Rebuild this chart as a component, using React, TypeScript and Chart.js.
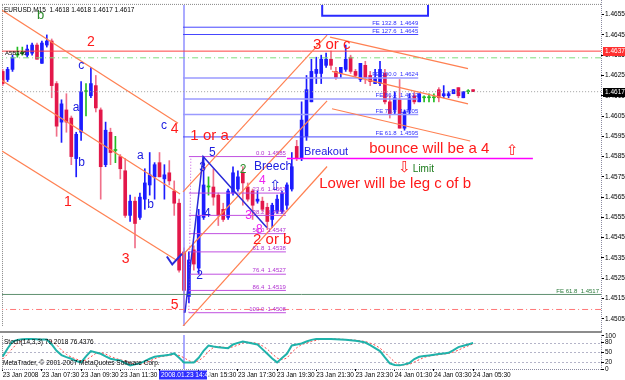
import React, { useEffect, useRef } from "react";
import { Chart, registerables } from "chart.js";

Chart.register(...registerables);

const FONT = '"Liberation Sans", Arial, sans-serif';
const ARROW_FONT = '"DejaVu Sans", sans-serif';

// ---------- data ----------
const symbolHeader = "EURUSD,M15  1.4618 1.4618 1.4617 1.4617";
const stochHeader = "Stoch(14,3,3) 79.2018 76.4376";
const copyright = "MetaTrader, \u00a9 2001-2007 MetaQuotes Software Corp.";

const openP = [
  1.4627, 1.4623, 1.4628, 1.4635, 1.4636, 1.4635, 1.4636, 1.464, 1.4631, 1.464,
  1.4642, 1.4621, 1.4602, 1.4608, 1.4604, 1.4584, 1.4597, 1.4617, 1.4615, 1.462,
  1.4608, 1.4581, 1.4597, 1.4588, 1.4585, 1.4578, 1.4556, 1.4563, 1.4555, 1.4564,
  1.4571, 1.4575, 1.4582, 1.4574, 1.4577, 1.4568, 1.4562, 1.4538, 1.4516, 1.4539,
  1.453, 1.4555, 1.457, 1.457, 1.4566, 1.4559, 1.4555, 1.4567, 1.4569, 1.4577,
  1.457, 1.4568, 1.4563, 1.4563, 1.456, 1.4554, 1.4558, 1.4558, 1.4561, 1.4569,
  1.459, 1.4584, 1.4595, 1.4612, 1.4626, 1.4626, 1.463, 1.4633, 1.4627, 1.4626,
  1.4628, 1.4634, 1.4627, 1.4623, 1.463, 1.4625, 1.4621, 1.4621, 1.4626, 1.4612,
  1.4608, 1.4613, 1.4599, 1.4608, 1.4615, 1.4612, 1.4614, 1.4614, 1.4614, 1.4618,
  1.4615, 1.4615, 1.4616, 1.4619, 1.4614, 1.4617, 1.4618,
];
const highP = [
  1.4628, 1.4629, 1.4635, 1.4639, 1.4639, 1.464, 1.4641, 1.4641, 1.4642, 1.4645,
  1.4643, 1.4622, 1.4613, 1.4616, 1.4605, 1.4597, 1.4622, 1.4621, 1.4629, 1.4625,
  1.4609, 1.4602, 1.4599, 1.4595, 1.4586, 1.4584, 1.4566, 1.4565, 1.4567, 1.4579,
  1.4587, 1.4582, 1.4587, 1.4581, 1.4583, 1.4573, 1.4564, 1.454, 1.4538, 1.4541,
  1.4559, 1.4585, 1.4575, 1.4579, 1.4567, 1.4562, 1.4569, 1.458, 1.4578, 1.458,
  1.4572, 1.4569, 1.4568, 1.4565, 1.4562, 1.4562, 1.4566, 1.4568, 1.4572, 1.4587,
  1.4593, 1.4612, 1.4625, 1.4633, 1.4634, 1.4635, 1.4636, 1.4637, 1.4629, 1.4629,
  1.464, 1.4635, 1.4628, 1.4631, 1.4632, 1.4627, 1.4628, 1.4632, 1.4628, 1.4615,
  1.4617, 1.4623, 1.4608, 1.4616, 1.4617, 1.4616, 1.4615, 1.4616, 1.4616, 1.4619,
  1.462, 1.4617, 1.4618, 1.4619, 1.4617, 1.4618, 1.4618,
];
const lowP = [
  1.462, 1.4622, 1.4627, 1.4634, 1.4635, 1.4634, 1.4635, 1.4633, 1.4631, 1.4639,
  1.4614, 1.4595, 1.4592, 1.4597, 1.4581, 1.4575, 1.4593, 1.4605, 1.4614, 1.4607,
  1.4564, 1.458, 1.4581, 1.4582, 1.4574, 1.4555, 1.4553, 1.454, 1.4554, 1.4559,
  1.4566, 1.4564, 1.4575, 1.4564, 1.4571, 1.4556, 1.4528, 1.4508, 1.4513, 1.4529,
  1.4527, 1.4554, 1.4566, 1.4561, 1.4551, 1.4553, 1.4554, 1.4566, 1.4568, 1.4561,
  1.4563, 1.4554, 1.4562, 1.4558, 1.4549, 1.455, 1.4557, 1.4557, 1.4559, 1.4568,
  1.4583, 1.4583, 1.4593, 1.4612, 1.4621, 1.4621, 1.4629, 1.4628, 1.4623, 1.4624,
  1.4627, 1.4626, 1.4624, 1.4622, 1.4621, 1.462, 1.4621, 1.462, 1.4611, 1.4604,
  1.4606, 1.4599, 1.4598, 1.4606, 1.4611, 1.4612, 1.4612, 1.4612, 1.4612, 1.4612,
  1.4614, 1.4614, 1.4616, 1.4614, 1.4614, 1.4616, 1.4617,
];
const closeP = [
  1.4621, 1.4628, 1.4634, 1.4635, 1.4636, 1.4638, 1.464, 1.4633, 1.4641, 1.4642,
  1.462, 1.46, 1.4611, 1.4602, 1.4585, 1.4596, 1.4617, 1.4617, 1.4621, 1.4609,
  1.458, 1.4598, 1.4587, 1.4588, 1.4579, 1.4556, 1.4563, 1.4552, 1.4565, 1.4572,
  1.4576, 1.4581, 1.4575, 1.4576, 1.4573, 1.4562, 1.4529, 1.4519, 1.4534, 1.4532,
  1.4556, 1.4571, 1.457, 1.4565, 1.4556, 1.4554, 1.4568, 1.4577, 1.4575, 1.4572,
  1.4564, 1.4561, 1.4564, 1.4559, 1.4553, 1.4561, 1.4564, 1.4567, 1.4571, 1.458,
  1.4584, 1.4603, 1.4618, 1.4627, 1.4628, 1.4633, 1.4633, 1.463, 1.4624, 1.4629,
  1.4633, 1.4627, 1.4625, 1.4631, 1.4624, 1.4622, 1.4624, 1.4628, 1.4612, 1.4606,
  1.4614, 1.4599, 1.4607, 1.4614, 1.4612, 1.4616, 1.4614, 1.4614, 1.4614, 1.4614,
  1.4616, 1.4616, 1.4618, 1.4615, 1.4617, 1.4617, 1.4617,
];
const stochMain = [
  38, 62, 83, 88, 90, 91, 91, 90, 89, 89,
  74, 55, 42, 36, 31, 24, 20, 38, 54, 50,
  46, 38, 31, 28, 26, 18, 11, 14, 17, 24,
  31, 37, 39, 41, 43, 47, 34, 20, 20, 20,
  34, 55, 71, 68, 66, 64, 63, 74, 79, 83,
  80, 77, 74, 60, 46, 32, 20, 33, 46, 71,
  74, 77, 83, 88, 91, 91, 91, 91, 90, 89,
  88, 87, 85, 83, 80, 72, 63, 54, 35, 17,
  12, 11, 14, 18, 30, 37, 39, 41, 43, 45,
  47, 49, 57, 66, 70, 74, 79,
];
const stochSignal = [
  30, 45, 62, 78, 87, 90, 91, 91, 90, 89,
  84, 73, 57, 44, 36, 30, 25, 27, 37, 47,
  50, 45, 38, 32, 28, 24, 18, 14, 14, 18,
  24, 31, 36, 39, 41, 44, 41, 34, 25, 20,
  25, 36, 53, 65, 68, 66, 64, 67, 72, 79,
  81, 80, 77, 70, 60, 46, 33, 28, 33, 50,
  64, 74, 78, 83, 87, 90, 91, 91, 91, 90,
  89, 88, 87, 85, 83, 78, 72, 63, 50, 35,
  21, 13, 12, 14, 21, 28, 35, 39, 41, 43,
  45, 47, 51, 57, 64, 70, 76,
];
const priceTicks = [
  1.4505, 1.4515, 1.4525, 1.4535, 1.4545, 1.4555, 1.4565, 1.4575,
  1.4585, 1.4595, 1.4605, 1.4615, 1.4625, 1.4635, 1.4645, 1.4655,
];
const stochTicks = [0, 20, 50, 80, 100];
const stochLevels = [20, 50, 80];
const timeTickBars = [0, 8, 16, 24, 32, 40, 48, 56, 64, 72, 80, 88, 96];
const timeTickLabels = [
  "23 Jan 2008", "23 Jan 07:30", "23 Jan 09:30", "23 Jan 11:30", "23 Jan 13:30",
  "23 Jan 15:30", "23 Jan 17:30", "23 Jan 19:30", "23 Jan 21:30", "23 Jan 23:30",
  "24 Jan 01:30", "24 Jan 03:30", "24 Jan 05:30",
];
const crossBar = 37;
const crossLabel = "2008.01.23 14:45";
const dayHigh = 1.4637;
const lastPrice = 1.4617;
const greenDashLevel = 1.46337;
const fe618Level = 1.4517;
const wave5Level = 1.45096;
const breakLevel = 1.4584;

const X_MIN = -0.143;
const X_MAX = 122.1;
const Y_MIN = 1.45014;
const Y_MAX = 1.46598;

// channels: [bar1, price1, bar2, price2]
const channelSegments = [
  [-0.14, 1.46572, 35.78, 1.46014],
  [-0.14, 1.46225, 36.2, 1.45666],
  [-0.14, 1.45877, 35.57, 1.45337],
  [36.8, 1.45676, 66.2, 1.46449],
  [36.8, 1.45366, 66.2, 1.46125],
  [36.8, 1.45014, 66.2, 1.45801],
  [66.8, 1.46439, 94.96, 1.46284],
  [67.2, 1.4627, 94.96, 1.4611],
  [67.2, 1.46086, 95.4, 1.45927],
];
const feStart = 36.8;
const feEnd = 84.8;
const feDark = [1.46488, 1.46452, 1.45947];
const feLight = [1.46238, 1.46134, 1.46058];
const feLabels: [string, number][] = [
  ["FE 132.8  1.4649", 1.46488],
  ["FE 127.6  1.4645", 1.46452],
  ["FE 100.0  1.4624", 1.46238],
  ["FE 86.4  1.4613", 1.46134],
  ["FE 76.4  1.4605", 1.46058],
  ["FE 61.8  1.4595", 1.45947],
];
const fibStart = 38.0;
const fibEnd = 57.8;
const fibLabels: [string, number][] = [
  ["0.0  1.4585", 1.4585],
  ["23.6  1.4567", 1.4567],
  ["38.2  1.4556", 1.4556],
  ["50.0  1.4547", 1.4547],
  ["61.8  1.4538", 1.4538],
  ["76.4  1.4527", 1.4527],
  ["86.4  1.4519", 1.4519],
  ["100.0  1.4508", 1.4508],
];
const boxPoints = [[65.2, 1.4666], [65.2, 1.46544], [86.8, 1.46544], [86.8, 1.4666]];
const zigzagPoints = [[37.2, 1.4508], [40.9, 1.4585], [53.9, 1.4550]];
const checkPoints = [[33.5, 1.45357], [34.6, 1.45318], [36.6, 1.45371]];
const magentaSegment = [[58.0, breakLevel], [108.2, breakLevel]];

const RED = "#ff1a1a";
const BLUE = "#2020e0";
const GREEN = "#2a8a2a";
const MAGENTA = "#f020f0";

const waveLabels: [string, number, number, string, number][] = [
  ["b", 7.0, 1.46548, GREEN, 13],
  ["2", 17.2, 1.46412, RED, 14],
  ["c", 15.4, 1.46299, BLUE, 12],
  ["a", 14.3, 1.46091, BLUE, 12],
  ["b", 15.4, 1.45821, BLUE, 12],
  ["1", 12.5, 1.45627, RED, 14],
  ["c", 32.3, 1.46004, BLUE, 12],
  ["4", 34.3, 1.45985, RED, 14],
  ["a", 27.4, 1.45854, BLUE, 12],
  ["b", 29.5, 1.45613, BLUE, 12],
  ["3", 24.3, 1.45342, RED, 14],
  ["5", 34.3, 1.45115, RED, 14],
  ["1 or a", 38.3, 1.45951, RED, 15],
  ["5", 42.1, 1.45869, BLUE, 12],
  ["3", 40.1, 1.45796, BLUE, 12],
  ["4", 41.1, 1.45569, BLUE, 12],
  ["2", 39.5, 1.45265, BLUE, 12],
  ["2", 48.4, 1.45787, GREEN, 12],
  ["Breech", 51.3, 1.45801, BLUE, 12],
  ["4", 52.3, 1.45729, MAGENTA, 12],
  ["3", 49.5, 1.4556, MAGENTA, 12],
  ["8", 51.7, 1.45487, MAGENTA, 12],
  ["2 or b", 51.1, 1.45439, RED, 15],
  ["3 or c", 63.3, 1.464, RED, 15],
  ["Breakout", 61.5, 1.45874, BLUE, 11],
  ["bounce will be a 4", 74.8, 1.45886, RED, 15],
  ["Lower will be leg c of b", 64.6, 1.45714, RED, 15],
  ["Limit", 83.7, 1.45787, "#1a7a1a", 10],
];
const arrowLabels: [string, number, number, string, number][] = [
  ["\u21e9", 82.0, 1.45794, RED, 15],
  ["\u21e7", 104.0, 1.45879, RED, 15],
  ["\u21e7", 55.6, 1.45702, BLUE, 14],
];

// ---------- helpers ----------
function lineDs(points: number[][], color: string, width = 1, dash: number[] = [], order = 5) {
  return {
    type: "line",
    data: points.map((p) => ({ x: p[0], y: p[1] })),
    borderColor: color,
    borderWidth: width,
    borderDash: dash,
    pointRadius: 0,
    fill: false,
    tension: 0,
    order,
  } as any;
}

function drawText(
  ctx: CanvasRenderingContext2D, s: string, x: number, y: number, color: string, size: number,
  align: CanvasTextAlign = "left", baseline: CanvasTextBaseline = "middle", family = FONT, weight = "normal"
) {
  ctx.save();
  ctx.font = `${weight} ${size}px ${family}`;
  ctx.fillStyle = color;
  ctx.textAlign = align;
  ctx.textBaseline = baseline;
  ctx.fillText(s, x, y);
  ctx.restore();
}

function dotted(ctx: CanvasRenderingContext2D, x1: number, y1: number, x2: number, y2: number, color: string, dash = [1, 1], w = 1) {
  ctx.save();
  ctx.strokeStyle = color;
  ctx.lineWidth = w;
  ctx.setLineDash(dash);
  ctx.beginPath();
  ctx.moveTo(x1, y1);
  ctx.lineTo(x2, y2);
  ctx.stroke();
  ctx.restore();
}

const mainDecor = {
  id: "mainDecor",
  beforeDatasetsDraw(chart: any) {
    const { ctx, chartArea: a } = chart;
    dotted(ctx, a.left + 0.5, a.top, a.left + 0.5, a.bottom, "#888");
    dotted(ctx, a.left, a.top - 0.5, a.right, a.top - 0.5, "#888");
    dotted(ctx, a.right + 0.5, 0, a.right + 0.5, chart.height, "#8a8aa0");
  },
  afterDatasetsDraw(chart: any) {
    const { ctx, chartArea: a } = chart;
    const xs = chart.scales.x;
    const ys = chart.scales.y;
    ctx.save();
    ctx.beginPath();
    ctx.rect(a.left, a.top, a.right - a.left, a.bottom - a.top);
    ctx.clip();
    fibLabels.forEach(([t, p]) => drawText(ctx, t, xs.getPixelForValue(fibEnd), ys.getPixelForValue(p) - 0.5, "#b030d0", 6, "right", "bottom"));
    feLabels.forEach(([t, p]) => drawText(ctx, t, xs.getPixelForValue(feEnd), ys.getPixelForValue(p) - 0.5, "#3030ff", 6, "right", "bottom"));
    drawText(ctx, "FE 61.8  1.4517", a.right - 2, ys.getPixelForValue(fe618Level) - 0.5, "#2a7a3a", 6, "right", "bottom");
    waveLabels.forEach(([t, b, p, c, s]) => drawText(ctx, t, xs.getPixelForValue(b), ys.getPixelForValue(p), c, s));
    arrowLabels.forEach(([t, b, p, c, s]) => drawText(ctx, t, xs.getPixelForValue(b), ys.getPixelForValue(p), c, s, "center", "middle", ARROW_FONT));
    drawText(ctx, symbolHeader, a.left + 2, a.top + 5, "#000", 6.5);
    drawText(ctx, "A5B346", a.left + 3, ys.getPixelForValue(greenDashLevel) - 4, "#000", 6);
    ctx.restore();
  },
  afterDraw(chart: any) {
    const { ctx, chartArea: a } = chart;
    const ys = chart.scales.y;
    const box = (p: number, bg: string) => {
      const y = Math.round(ys.getPixelForValue(p));
      ctx.save();
      ctx.fillStyle = bg;
      ctx.fillRect(a.right + 2, y - 4, chart.width - a.right - 2, 9);
      ctx.restore();
      drawText(ctx, p.toFixed(4), a.right + 4, y + 0.5, "#fff", 6.5);
    };
    box(dayHigh, "#ff3030");
    box(lastPrice, "#000");
  },
};

const stochDecor = {
  id: "stochDecor",
  beforeDatasetsDraw(chart: any) {
    const { ctx, chartArea: a } = chart;
    const ys = chart.scales.y;
    ctx.save();
    ctx.fillStyle = "#8c8c8c";
    ctx.fillRect(0, 0, a.right + 1, 2);
    ctx.restore();
    stochLevels.forEach((v) => {
      const y = Math.round(ys.getPixelForValue(v)) + 0.5;
      dotted(ctx, a.left, y, a.right, y, "#b4b4c8", [2, 2]);
    });
    dotted(ctx, a.left + 0.5, a.top, a.left + 0.5, a.bottom, "#888");
    dotted(ctx, a.left, a.bottom + 0.5, a.right, a.bottom + 0.5, "#8a8aa0");
    dotted(ctx, a.right + 0.5, a.top - 1, a.right + 0.5, a.bottom, "#8a8aa0");
    const cx = chart.scales.x.getPixelForValue(crossBar);
    ctx.save();
    ctx.strokeStyle = "#8f8fff";
    ctx.lineWidth = 1.5;
    ctx.beginPath();
    ctx.moveTo(cx, a.top - 1);
    ctx.lineTo(cx, a.bottom);
    ctx.stroke();
    ctx.restore();
  },
  afterDatasetsDraw(chart: any) {
    const { ctx, chartArea: a } = chart;
    drawText(ctx, stochHeader, a.left + 2, a.top + 6, "#000", 6.5);
    drawText(ctx, copyright, a.left + 1, a.bottom - 6, "#000", 6.5);
  },
  afterDraw(chart: any) {
    const { ctx, chartArea: a } = chart;
    const cx = chart.scales.x.getPixelForValue(crossBar);
    ctx.save();
    ctx.fillStyle = "#2f2fff";
    ctx.fillRect(cx - 25, a.bottom + 1.5, 48, 9);
    ctx.restore();
    drawText(ctx, crossLabel, cx - 23, a.bottom + 6, "#fff", 6.5);
  },
};

function mainConfig(): any {
  const idx = openP.map((_, i) => i);
  const bull = (i: number) => closeP[i] > openP[i];
  const doji = (i: number) => closeP[i] === openP[i];
  const bodyColor = idx.map((i) => (doji(i) ? "#22bb22" : bull(i) ? "#1c1cff" : "#e3174a"));
  const wickColor = idx.map((i) => (doji(i) ? "#22bb22" : bull(i) ? "#1c1cff" : "#f0708a"));
  const full = (p: number) => [[X_MIN - 1, p], [X_MAX + 1, p]];

  const datasets: any[] = [
    lineDs(full(dayHigh), "#ff4040", 1, [], 3),
    lineDs(full(greenDashLevel), "#7ddc7d", 1, [6, 3, 1, 3], 3),
    lineDs(full(lastPrice), "#a0a0a0", 1, [1, 2], 3),
    lineDs(full(fe618Level), "#5f9070", 1, [], 3),
    lineDs(full(wave5Level), "#ff7878", 1, [6, 3, 1, 3], 3),
    lineDs([[crossBar, Y_MIN - 0.01], [crossBar, Y_MAX + 0.01]], "#8f8fff", 1.5, [], 6),
    ...channelSegments.map((s) => lineDs([[s[0], s[1]], [s[2], s[3]]], "#ff8052", 1.2, [], 2)),
    ...feDark.map((p) => lineDs([[feStart, p], [feEnd, p]], "#4646ff", 1, [], 4)),
    ...feLight.map((p) => lineDs([[feStart, p], [feEnd, p]], "#9a9aff", 1.5, [], 4)),
    ...fibLabels.map(([, p]) => lineDs([[fibStart, p], [fibEnd, p]], "#c050e0", 1, [], 4)),
    lineDs([[fibStart, 1.4508], [fibStart + 0.4, 1.4585]], "#c050e0", 1, [1, 2], 4),
    lineDs(boxPoints, "#2a2aff", 2, [], 2),
    lineDs(magentaSegment, "#ff00ff", 1.5, [], 2),
    lineDs(zigzagPoints, "#2a2ad8", 1.5, [], 1),
    lineDs(checkPoints, "#2a2ad8", 2, [], 1),
    {
      type: "bar",
      data: idx.map((i) => ({ x: i, y: [openP[i], closeP[i]] })),
      backgroundColor: bodyColor,
      barThickness: 3,
      minBarLength: 1,
      grouped: false,
      order: 19,
    },
    {
      type: "bar",
      data: idx.map((i) => ({ x: i, y: [lowP[i], highP[i]] })),
      backgroundColor: wickColor,
      barThickness: 1,
      grouped: false,
      order: 20,
    },
  ];

  return {
    type: "bar",
    data: { datasets },
    options: {
      animation: false,
      responsive: false,
      events: [],
      layout: { padding: { left: 2, top: 2, right: 0, bottom: 1 } },
      plugins: { legend: { display: false }, tooltip: { enabled: false } },
      scales: {
        x: { type: "linear", min: X_MIN, max: X_MAX, display: false, offset: false },
        y: {
          type: "linear",
          position: "right",
          min: Y_MIN,
          max: Y_MAX,
          afterBuildTicks: (s: any) => { s.ticks = priceTicks.map((v) => ({ value: v })); },
          afterFit: (s: any) => { s.width = 24; },
          grid: { drawOnChartArea: false, drawTicks: true, tickLength: 3, color: "#000" },
          border: { display: false },
          ticks: {
            autoSkip: false,
            padding: 1,
            color: "#000",
            font: { family: "Liberation Sans", size: 6.5 },
            callback: (v: any) => Number(v).toFixed(4),
          },
        },
      },
    },
    plugins: [mainDecor],
  };
}

function stochConfig(): any {
  return {
    type: "line",
    data: {
      datasets: [
        {
          data: stochMain.map((v, i) => ({ x: i, y: v })),
          borderColor: "#20b2aa",
          borderWidth: 2,
          pointRadius: 0,
          tension: 0,
          order: 1,
        },
        {
          data: stochSignal.map((v, i) => ({ x: i, y: v })),
          borderColor: "#ff4a4a",
          borderWidth: 1,
          borderDash: [2, 2],
          pointRadius: 0,
          tension: 0,
          order: 2,
        },
      ],
    },
    options: {
      animation: false,
      responsive: false,
      events: [],
      layout: { padding: { left: 2, top: 3, right: 0, bottom: 0 } },
      plugins: { legend: { display: false }, tooltip: { enabled: false } },
      scales: {
        x: {
          type: "linear",
          min: X_MIN,
          max: X_MAX,
          position: "bottom",
          offset: false,
          afterBuildTicks: (s: any) => { s.ticks = timeTickBars.map((v) => ({ value: v })); },
          afterFit: (s: any) => { s.height = 11; },
          grid: { drawOnChartArea: false, drawTicks: true, tickLength: 2, color: "#000" },
          border: { display: false },
          ticks: {
            autoSkip: false,
            maxRotation: 0,
            minRotation: 0,
            align: "start",
            padding: 0,
            color: "#000",
            font: { family: "Liberation Sans", size: 6.5 },
            callback: (v: any) => {
              const k = timeTickBars.indexOf(Number(v));
              return k >= 0 ? timeTickLabels[k] : "";
            },
          },
        },
        y: {
          type: "linear",
          position: "right",
          min: 0,
          max: 100,
          afterBuildTicks: (s: any) => { s.ticks = stochTicks.map((v) => ({ value: v })); },
          afterFit: (s: any) => { s.width = 24; },
          grid: { drawOnChartArea: false, drawTicks: true, tickLength: 3, color: "#000" },
          border: { display: false },
          ticks: {
            autoSkip: false,
            padding: 1,
            color: "#000",
            font: { family: "Liberation Sans", size: 6.5 },
            callback: (v: any) => String(v),
          },
        },
      },
    },
    plugins: [stochDecor],
  };
}

export default function App() {
  const mainRef = useRef<HTMLCanvasElement>(null);
  const stochRef = useRef<HTMLCanvasElement>(null);

  useEffect(() => {
    const main = new Chart(mainRef.current as HTMLCanvasElement, mainConfig());
    const stoch = new Chart(stochRef.current as HTMLCanvasElement, stochConfig());
    return () => {
      main.destroy();
      stoch.destroy();
    };
  }, []);

  return (
    <div style={{ position: "fixed", left: 0, top: 0, width: 625, height: 380, background: "#fff", overflow: "hidden" }}>
      <canvas ref={mainRef} width={625} height={331} style={{ position: "absolute", left: 0, top: 0, width: 625, height: 331 }} />
      <canvas ref={stochRef} width={625} height={49} style={{ position: "absolute", left: 0, top: 331, width: 625, height: 49 }} />
    </div>
  );
}
